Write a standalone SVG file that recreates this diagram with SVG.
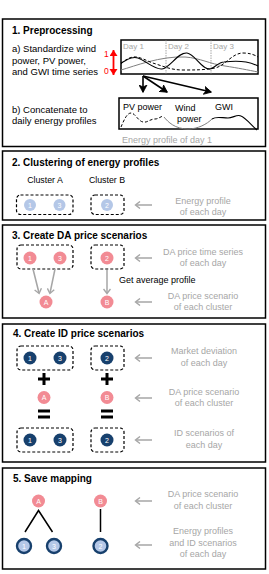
<svg xmlns="http://www.w3.org/2000/svg" width="269" height="574" viewBox="0 0 269 574">
<defs>
<style>
text{font-family:"Liberation Sans",Arial,sans-serif;}
.panel{fill:#fff;stroke:#000;stroke-width:1.5;}
.title{font-size:10px;font-weight:bold;fill:#000;}
.body{font-size:9.5px;fill:#000;}
.gtxt{font-size:9px;fill:#a6a6a6;text-anchor:middle;}
.dbox{fill:none;stroke:#000;stroke-width:1.2;stroke-dasharray:3,2;}
.lb{fill:#b4c7e7;}
.pk{fill:#f28b94;}
.nv{fill:#17406d;}
.lbn{fill:#b4c7e7;stroke:#17406d;stroke-width:2.4;}
.ct{font-size:7px;fill:#fff;text-anchor:middle;}
.garr{stroke:#a6a6a6;stroke-width:1.5;fill:none;marker-end:url(#ag);}
.barr{stroke:#000;stroke-width:1.6;fill:none;marker-end:url(#ab);}
.op{fill:none;stroke:#000;stroke-width:3;}
</style>
<marker id="ag" markerWidth="8" markerHeight="8" refX="5" refY="4" orient="auto" markerUnits="userSpaceOnUse"><path d="M1,0.5 L5.5,4 L1,7.5" fill="none" stroke="#a6a6a6" stroke-width="1.4"/></marker>
<marker id="ab" markerWidth="9" markerHeight="9" refX="7" refY="4.5" orient="auto" markerUnits="userSpaceOnUse"><path d="M0,0.5 L7.5,4.5 L0,8.5 L2,4.5 Z" fill="#000" stroke="#000" stroke-width="0.8"/></marker>
<marker id="ar" markerWidth="8" markerHeight="9" refX="6" refY="4" orient="auto-start-reverse" markerUnits="userSpaceOnUse"><path d="M0,0 L6,4 L0,8 Z" fill="#ff0000"/></marker>
</defs>
<rect width="269" height="574" fill="#fff"/>

<!-- Panel 1 -->
<g id="panel1">
<rect class="panel" x="2.5" y="19" width="263" height="127.5"/>
<text class="title" x="12" y="34">1. Preprocessing</text>
<text class="body" x="12" y="52">a) Standardize wind</text>
<text class="body" x="12" y="63.5">power, PV power,</text>
<text class="body" x="12" y="75">and GWI time series</text>
<text x="104" y="56.5" font-size="8.5" fill="#ff0000">1</text>
<text x="104" y="74" font-size="8.5" fill="#ff0000">0</text>
<line x1="113.5" y1="50" x2="113.5" y2="75" stroke="#ff0000" stroke-width="1.8" marker-start="url(#ar)" marker-end="url(#ar)"/>
<g id="timeseries">
<rect x="121" y="40" width="137" height="34" fill="#fff" stroke="#000" stroke-width="1.5"/>
<line x1="166" y1="40" x2="166" y2="74" stroke="#808080" stroke-width="0.7" stroke-dasharray="1.5,1"/>
<line x1="211" y1="40" x2="211" y2="74" stroke="#808080" stroke-width="0.7" stroke-dasharray="1.5,1"/>
<text x="123" y="48.5" font-size="8" fill="#a6a6a6">Day 1</text>
<text x="168" y="48.5" font-size="8" fill="#a6a6a6">Day 2</text>
<text x="213" y="48.5" font-size="8" fill="#a6a6a6">Day 3</text>
<path d="M121,70 C135,66 160,56 185,57 C200,58 210,64 225,66 C238,68 248,70 258,72" fill="none" stroke="#808080" stroke-width="1"/>
<path d="M121,64 C125,60 128,58 133,57 C140,56 148,62 156,64 C165,67 172,70 183,70 C195,70 205,70 215,68 C225,66 232,53 243,53 C250,53 255,55 258,57" fill="none" stroke="#000" stroke-width="1" stroke-dasharray="3,2"/>
<path d="M121,63 C127,60 132,56 138,58 C146,61 155,70 162,69 C170,68 178,52 187,53 C195,54 202,70 210,69 C215,68 218,62 224,62 C232,61 240,61 246,62 C251,63 254,64 258,66" fill="none" stroke="#000" stroke-width="1.1"/>
</g>
<text class="body" x="12" y="113">b) Concatenate to</text>
<text class="body" x="12" y="124">daily energy profiles</text>
<g id="dailyprofile">
<rect x="119" y="98" width="139" height="31" fill="#fff" stroke="#000" stroke-width="1.5"/>
<text x="123" y="110" font-size="9" fill="#000">PV power</text>
<text x="175" y="111" font-size="9" fill="#000">Wind</text>
<text x="177" y="121.5" font-size="9" fill="#000">power</text>
<text x="215" y="110" font-size="9" fill="#000">GWI</text>
<path d="M121,127 C124,120 127,113 131,113 C135,113 138,121 143,122 C147,123 150,119 155,119 C158,119 160,117 163,116" fill="none" stroke="#000" stroke-width="1" stroke-dasharray="3,2"/>
<path d="M164,117 C168,122 175,129 188,129 C198,129 207,124 212,119" fill="none" stroke="#808080" stroke-width="1"/>
<path d="M212,119 C216,116 222,118 228,118 C233,118 237,114 241,116 C246,118 252,126 257,130" fill="none" stroke="#000" stroke-width="1.1"/>
</g>
<text x="122" y="143" font-size="9" fill="#a6a6a6">Energy profile of day 1</text>
</g>

<!-- Panel 2 -->
<g id="panel2">
<rect class="panel" x="2.5" y="151" width="263" height="69"/>
<text class="title" x="12" y="166">2. Clustering of energy profiles</text>
<text x="45" y="183" font-size="8.8" text-anchor="middle">Cluster A</text>
<text x="107" y="183" font-size="8.8" text-anchor="middle">Cluster B</text>
<rect class="dbox" x="16.5" y="195" width="56.5" height="19.5" rx="4"/>
<rect class="dbox" x="91" y="195" width="33" height="19.5" rx="4"/>
<g id="p2n1"><circle class="lb" cx="30" cy="205" r="6"/><text class="ct" x="30" y="207.5">1</text></g>
<g id="p2n3"><circle class="lb" cx="59.5" cy="205" r="6"/><text class="ct" x="59.5" y="207.5">3</text></g>
<g id="p2n2"><circle class="lb" cx="107" cy="205" r="6"/><text class="ct" x="107" y="207.5">2</text></g>
<text class="gtxt" x="203" y="204">Energy profile</text>
<text class="gtxt" x="203" y="215">of each day</text>
</g>

<!-- Panel 3 -->
<g id="panel3">
<rect class="panel" x="2.5" y="225" width="263" height="93"/>
<text class="title" x="12" y="239">3. Create DA price scenarios</text>
<rect class="dbox" x="17" y="245" width="56" height="24" rx="4"/>
<rect class="dbox" x="91" y="245" width="33" height="24" rx="4"/>
<g id="p3n1"><circle class="pk" cx="30" cy="258" r="6.5"/><text class="ct" x="30" y="260.5">1</text></g>
<g id="p3n3"><circle class="pk" cx="60" cy="258" r="6.5"/><text class="ct" x="60" y="260.5">3</text></g>
<g id="p3n2"><circle class="pk" cx="107" cy="258" r="6.5"/><text class="ct" x="107" y="260.5">2</text></g>
<g id="p3A"><circle class="pk" cx="46" cy="302" r="6.5"/><text class="ct" x="46" y="304.5">A</text></g>
<g id="p3B"><circle class="pk" cx="107" cy="302" r="6.5"/><text class="ct" x="107" y="304.5">B</text></g>
<text x="119" y="283" font-size="9" fill="#000">Get average profile</text>
<text class="gtxt" x="203" y="254.5">DA price time series</text>
<text class="gtxt" x="203" y="265.5">of each day</text>
<text class="gtxt" x="203" y="299">DA price scenario</text>
<text class="gtxt" x="203" y="310">of each cluster</text>
</g>

<!-- Panel 4 -->
<g id="panel4">
<rect class="panel" x="2.5" y="324" width="263" height="138"/>
<text class="title" x="13" y="337">4. Create ID price scenarios</text>
<rect class="dbox" x="17" y="346" width="56" height="24" rx="4"/>
<rect class="dbox" x="91" y="346" width="33" height="24" rx="4"/>
<g id="p4n1"><circle class="nv" cx="30" cy="358" r="6.5"/><text class="ct" x="30" y="360.5">1</text></g>
<g id="p4n3"><circle class="nv" cx="60" cy="358" r="6.5"/><text class="ct" x="60" y="360.5">3</text></g>
<g id="p4n2"><circle class="nv" cx="107" cy="358" r="6.5"/><text class="ct" x="107" y="360.5">2</text></g>
<g id="plusA"><path class="op" d="M38,379 H50 M44,373 V385"/></g>
<g id="plusB"><path class="op" d="M101,379 H113 M107,373 V385"/></g>
<g id="p4A"><circle class="pk" cx="44" cy="397.5" r="6.5"/><text class="ct" x="44" y="400">A</text></g>
<g id="p4B"><circle class="pk" cx="107" cy="397.5" r="6.5"/><text class="ct" x="107" y="400">B</text></g>
<g id="eqA"><path class="op" d="M38,411 H50 M38,417 H50"/></g>
<g id="eqB"><path class="op" d="M101,411 H113 M101,417 H113"/></g>
<rect class="dbox" x="17" y="428" width="56" height="24" rx="4"/>
<rect class="dbox" x="91" y="428" width="33" height="24" rx="4"/>
<g id="p4m1"><circle class="nv" cx="30" cy="440" r="6.5"/><text class="ct" x="30" y="442.5">1</text></g>
<g id="p4m3"><circle class="nv" cx="60" cy="440" r="6.5"/><text class="ct" x="60" y="442.5">3</text></g>
<g id="p4m2"><circle class="nv" cx="107" cy="440" r="6.5"/><text class="ct" x="107" y="442.5">2</text></g>
<text class="gtxt" x="204" y="354">Market deviation</text>
<text class="gtxt" x="204" y="365.5">of each day</text>
<text class="gtxt" x="204" y="394.5">DA price scenario</text>
<text class="gtxt" x="204" y="406">of each cluster</text>
<text class="gtxt" x="204" y="436">ID scenarios of</text>
<text class="gtxt" x="204" y="447.5">each day</text>
</g>

<!-- Panel 5 -->
<g id="panel5">
<rect class="panel" x="2.5" y="468" width="263" height="101"/>
<text class="title" x="13" y="481.5">5. Save mapping</text>
<g id="p5A"><circle class="pk" cx="38.5" cy="501" r="6.5"/><text class="ct" x="38.5" y="503.5">A</text></g>
<g id="p5B"><circle class="pk" cx="100.5" cy="501" r="6.5"/><text class="ct" x="100.5" y="503.5">B</text></g>
<g id="p5n1"><circle class="lbn" cx="24" cy="546" r="7"/><text class="ct" x="24" y="548.5">1</text></g>
<g id="p5n3"><circle class="lbn" cx="54" cy="546" r="7"/><text class="ct" x="54" y="548.5">3</text></g>
<g id="p5n2"><circle class="lbn" cx="100.5" cy="546" r="7"/><text class="ct" x="100.5" y="548.5">2</text></g>
<text class="gtxt" x="203" y="497">DA price scenario</text>
<text class="gtxt" x="203" y="508.5">of each cluster</text>
<text class="gtxt" x="203" y="534">Energy profiles</text>
<text class="gtxt" x="203" y="545.5">and ID scenarios</text>
<text class="gtxt" x="203" y="557">of each day</text>
</g>

<!-- Connectors -->
<g id="connectors">
<line class="barr" x1="143" y1="76" x2="143" y2="92"/>
<line class="barr" x1="143" y1="76" x2="167" y2="92"/>
<line class="barr" x1="143" y1="76" x2="211" y2="92"/>
<line class="garr" x1="152" y1="205" x2="136" y2="205"/>
<line class="garr" x1="152" y1="258" x2="136" y2="258"/>
<line class="garr" x1="152" y1="302" x2="136" y2="302"/>
<line class="garr" x1="33" y1="269" x2="39" y2="293"/>
<line class="garr" x1="55" y1="269" x2="50" y2="293"/>
<line class="garr" x1="107" y1="270" x2="107" y2="293"/>
<line class="garr" x1="152" y1="358" x2="136" y2="358"/>
<line class="garr" x1="152" y1="398" x2="136" y2="398"/>
<line class="garr" x1="152" y1="440" x2="136" y2="440"/>
<line class="garr" x1="152" y1="501" x2="136" y2="501"/>
<line class="garr" x1="152" y1="545" x2="136" y2="545"/>
<path d="M25,532 L38.5,510.5 L52.5,532" fill="none" stroke="#000" stroke-width="1.5"/>
<line x1="100.5" y1="509" x2="100.5" y2="532" stroke="#000" stroke-width="1.5"/>
</g>
</svg>
